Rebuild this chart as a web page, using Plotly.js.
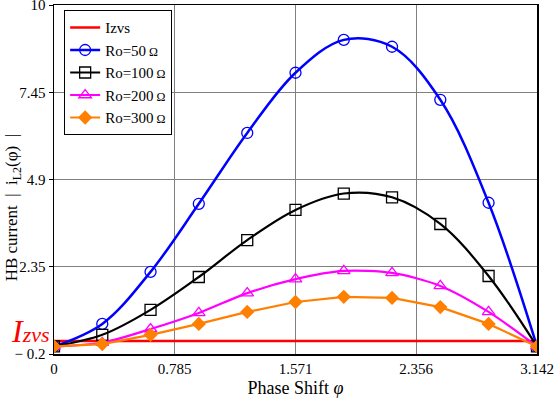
<!DOCTYPE html>
<html>
<head>
<meta charset="utf-8">
<script src="https://cdn.plot.ly/plotly-3.0.1.min.js"></script>
<style>
  html, body { margin: 0; padding: 0; background: #fff; }
  #chart { width: 556px; height: 408px; }
</style>
</head>
<body>
<div id="chart"></div>
<script>
// Phase shift samples: k*pi/10, k = 0..10
const phi = [0, 0.314, 0.628, 0.942, 1.257, 1.571, 1.885, 2.199, 2.513, 2.827, 3.142];

// Half-bridge current magnitude for each load resistance
const ro50  = [0.02, 0.68, 2.20, 4.19, 6.26, 8.02, 8.98, 8.78, 7.23, 4.22, 0.02];
const ro100 = [0.02, 0.36, 1.09, 2.05, 3.13, 4.01, 4.49, 4.38, 3.60, 2.08, 0.02];
const ro200 = [0.02, 0.13, 0.53, 1.00, 1.58, 1.99, 2.23, 2.17, 1.79, 1.03, 0.02];
const ro300 = [0.02, 0.09, 0.36, 0.68, 1.03, 1.32, 1.47, 1.44, 1.17, 0.68, 0.02];

// ZVS current threshold
const izvs = 0.18;
const phiRange = [0, 3.142];

const xTicks = [0, 0.785, 1.571, 2.356, 3.142];
const xTickText = ['0', '0.785', '1.571', '2.356', '3.142'];
const yTicks = [-0.2, 2.35, 4.9, 7.45, 10];
const yTickText = ['\u2212 0.2', '2.35', '4.9', '7.45', '10'];

const serif = "'Liberation Serif', 'Times New Roman', serif";
const ohm = '<span style="font-size:12px">\u00a0\u03a9</span>';

const traces = [
  {
    name: 'Izvs', x: phiRange, y: [izvs, izvs], mode: 'lines',
    line: { color: '#ff0000', width: 2.5 }
  },
  {
    name: 'Ro=50' + ohm, x: phi, y: ro50, mode: 'lines+markers',
    line: { color: '#0000ff', width: 2.5, shape: 'spline', smoothing: 1 },
    marker: { symbol: 'circle-open', size: 11, color: '#0000ff', line: { width: 1.3 } }
  },
  {
    name: 'Ro=100' + ohm, x: phi, y: ro100, mode: 'lines+markers',
    line: { color: '#000000', width: 2.2, shape: 'spline', smoothing: 1 },
    marker: { symbol: 'square-open', size: 11, color: '#000000', line: { width: 1.3 } }
  },
  {
    name: 'Ro=200' + ohm, x: phi, y: ro200, mode: 'lines+markers',
    line: { color: '#ff00ff', width: 2.2, shape: 'spline', smoothing: 0.8 },
    marker: { symbol: 'triangle-up-open', size: 11, color: '#ff00ff', line: { width: 1.3 } }
  },
  {
    name: 'Ro=300' + ohm, x: phi, y: ro300, mode: 'lines+markers',
    line: { color: '#ff8000', width: 2.2 },
    marker: { symbol: 'diamond', size: 11, color: '#ff8000' }
  }
];

const layout = {
  width: 556, height: 408,
  margin: { l: 54, r: 19, t: 5, b: 54 },
  paper_bgcolor: '#ffffff', plot_bgcolor: '#ffffff',
  font: { family: serif, size: 15, color: '#000' },
  showlegend: true,
  legend: {
    x: 0.021, y: 0.985, xanchor: 'left', yanchor: 'top',
    bgcolor: '#ffffff', bordercolor: '#000000', borderwidth: 1,
    font: { family: serif, size: 15, color: '#000' },
    tracegroupgap: 0, itemwidth: 30
  },
  xaxis: {
    range: [0, 3.142], tickvals: xTicks, ticktext: xTickText,
    showgrid: true, gridcolor: '#808080', gridwidth: 1,
    zeroline: false, showline: true, linecolor: '#000', linewidth: 1.5, mirror: true,
    ticks: '', ticklabeloverflow: 'allow',
    tickfont: { family: serif, size: 15, color: '#000' },
    title: { text: 'Phase Shift <i>\u03c6</i>', font: { family: serif, size: 18, color: '#000' }, standoff: 6 }
  },
  yaxis: {
    range: [-0.2, 10], tickvals: yTicks, ticktext: yTickText,
    showgrid: true, gridcolor: '#808080', gridwidth: 1,
    zeroline: false, showline: true, linecolor: '#000', linewidth: 1.5, mirror: true,
    ticks: 'outside', ticklen: 4, tickcolor: '#000', ticklabeloverflow: 'allow',
    tickfont: { family: serif, size: 15, color: '#000' }
  },
  annotations: [
    {
      xref: 'paper', yref: 'paper', x: -0.083, y: 0.42,
      xanchor: 'center', yanchor: 'middle',
      text: 'HB current \u00a0|\u00a0 i<sub>L2</sub>(\u03c6) \u00a0|',
      textangle: -90, showarrow: false,
      font: { family: serif, size: 17, color: '#000' }
    },
    {
      xref: 'paper', yref: 'y', x: -0.004, y: izvs, xanchor: 'right', yanchor: 'bottom',
      text: '<i>I</i><span style="font-size:22px"><i>zvs</i></span>',
      showarrow: false, yshift: -10,
      font: { family: serif, size: 32, color: '#ff0000' }
    }
  ]
};

Plotly.newPlot('chart', traces, layout, { displayModeBar: false, staticPlot: true });
</script>
</body>
</html>
